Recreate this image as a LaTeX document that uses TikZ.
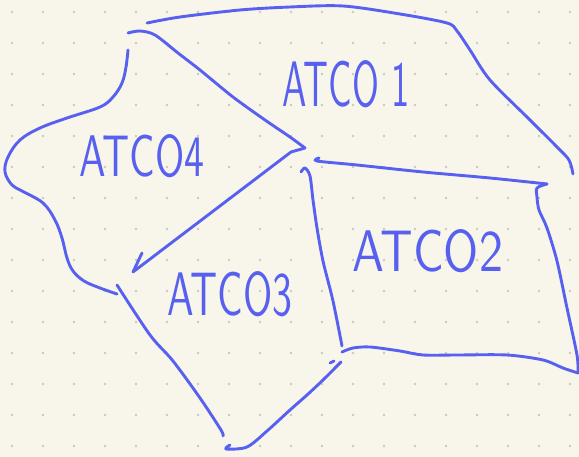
\documentclass[tikz,border=0pt]{standalone}
\usepackage{tikz}
\usepackage{graphicx}
\definecolor{ink}{HTML}{5860F0}
\definecolor{paper}{HTML}{F8F6EB}
\definecolor{griddot}{HTML}{CAC9C0}

\begin{document}
\begin{tikzpicture}[x=1pt, y=-1pt, line cap=round, line join=round,
    pen/.style={draw=ink, line width=2.9pt},
    lbl/.style={text=ink, inner sep=0pt}]
            \fill[paper] (0,0) rectangle (579,457);
            \useasboundingbox (0,0) rectangle (579,457);
            \foreach \i in {0,...,18}
                \foreach \j in {0,...,14}
                    \fill[griddot] (12+31*\i, 12+31*\j) circle (1.4pt);
            % ATCO 1, outer edge
            \draw[pen] plot[smooth, tension=0.5] coordinates {(147,23) (180,17) (240,10) (290,7) (343,6) (400,14) (447,23) (457,31) (470,50) (490,80) (530,120) (557,147) (569,160) (573,174)};
            % ATCO 4, upper edge and tip
            \draw[pen] plot[smooth, tension=0.5] coordinates {(128,33) (140,31) (155,35) (178,53) (200,70) (233,97) (265,120) (290,137) (305,148)};
            \draw[pen] (305,148) -- (291,152) -- (133,272) -- (142,253);
            % ATCO 4, wavy edge
            \draw[pen] plot[smooth, tension=0.6] coordinates {(128,50) (126,67) (122,83) (113,97) (100,107) (67,118) (40,128) (20,140) (8,157) (5,172) (12,185) (22,191) (43,203) (55,220) (62,238) (67,258) (73,271) (84,281) (100,288) (117,294)};
            % ATCO 3
            \draw[pen] plot[smooth, tension=0.5] coordinates {(117,285) (150,335) (173,361) (200,398) (221,430) (223,436)};
            \draw[pen] plot[smooth, tension=0.5] coordinates {(230,445) (226,449) (247,447) (267,431) (290,410) (307,395) (323,380) (341,362)};
            \draw[pen] (330,363) -- (334,361);
            % ATCO 2 / ATCO 3
            \draw[pen] plot[smooth, tension=0.5] coordinates {(301,172) (305,168) (310,176) (313,200) (317,228) (323,261) (333,301) (342,346)};
            % ATCO 2
            \draw[pen] plot[smooth, tension=0.5] coordinates {(319,158) (317,161) (357,165) (423,172) (490,178) (547,184)};
            \draw[pen] plot[smooth, tension=0.5] coordinates {(547,184) (537,188) (537,197) (539,210) (547,228) (557,261) (567,308) (577,355) (578,373)};
            \draw[pen] plot[smooth, tension=0.5] coordinates {(578,373) (563,368) (543,360) (507,355) (457,355) (423,355) (400,351) (370,347) (353,348) (342,352)};
            % labels
            \node[lbl] (atco1) at (346,84) {\resizebox{127pt}{46pt}{\sffamily ATCO 1}};
            \node[lbl] (atco4) at (142,156) {\resizebox{125pt}{42pt}{\sffamily ATCO4}};
            \node[lbl] (atco3) at (230,294) {\resizebox{125pt}{44pt}{\sffamily ATCO3}};
            \node[lbl] (atco2) at (428,251) {\resizebox{150pt}{42pt}{\sffamily ATCO2}};
        \end{tikzpicture}
\end{document}
